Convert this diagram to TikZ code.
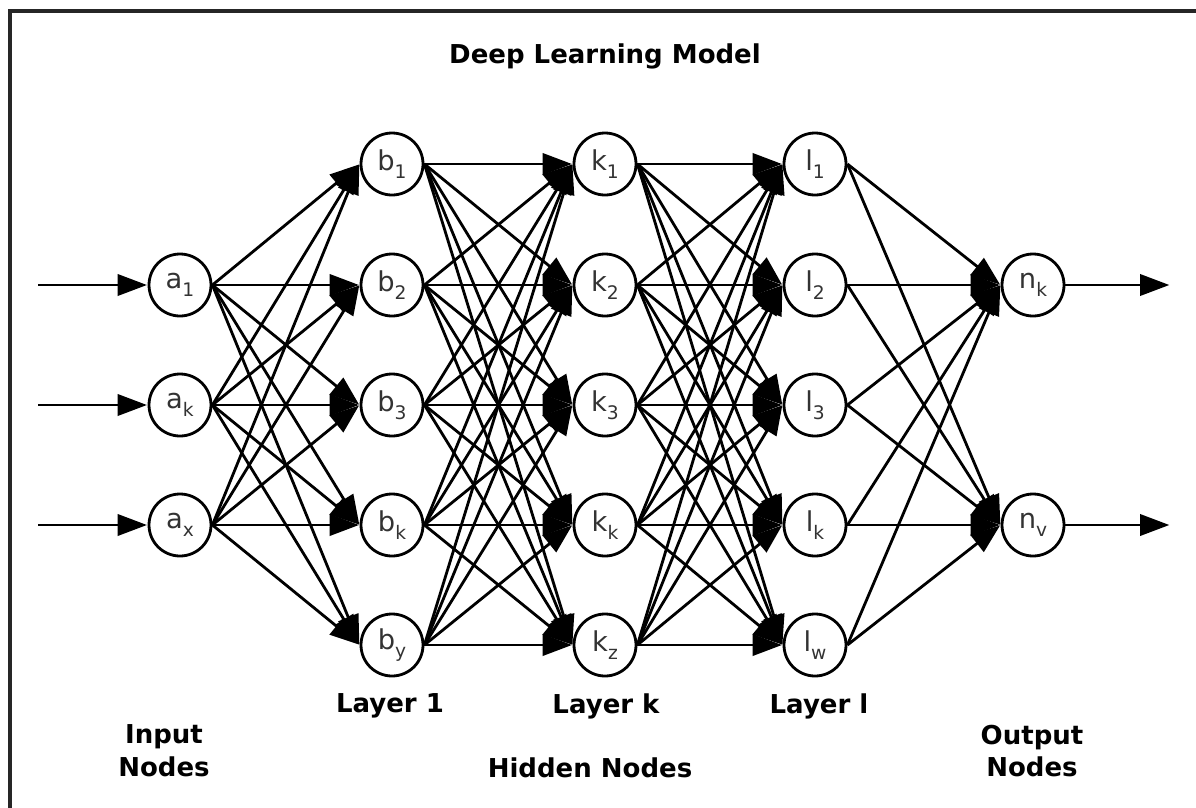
\documentclass[tikz,border=0pt]{standalone}
\usepackage{fontspec}
\setmainfont{DejaVu Sans}
\usetikzlibrary{arrows.meta}
\newcommand{\sbs}[1]{\raisebox{-0.3em}{\fontsize{14}{14}\selectfont #1}}
\tikzset{
  neuron/.style={circle, draw, line width=2.1pt, minimum size=46.5pt, inner sep=0pt,
    text=black!80, font=\fontsize{20.5}{22}\selectfont},
  conn/.style={line width=2.1pt, -{Triangle[length=22pt,width=16pt]}, shorten >=0.5pt},
  lbl/.style={font=\bfseries\fontsize{19.5}{24.5}\selectfont, align=center},
}
\begin{document}
\begin{tikzpicture}[x=0.75pt,y=-0.75pt]
\useasboundingbox (0,0) rectangle (1196,807);
\draw[line width=2.3pt, black!85] (10,1000) -- (10,11) -- (1300,11);
% input nodes
\node[neuron] (a1) at (180,285) {a\sbs{1}};
\node[neuron] (a2) at (180,405) {a\sbs{k}};
\node[neuron] (a3) at (180,525) {a\sbs{x}};
% layer 1
\node[neuron] (b1) at (392,164) {b\sbs{1}};
\node[neuron] (b2) at (392,285) {b\sbs{2}};
\node[neuron] (b3) at (392,405) {b\sbs{3}};
\node[neuron] (b4) at (392,525) {b\sbs{k}};
\node[neuron] (b5) at (392,645) {b\sbs{y}};
% layer k
\node[neuron] (k1) at (605,164) {k\sbs{1}};
\node[neuron] (k2) at (605,285) {k\sbs{2}};
\node[neuron] (k3) at (605,405) {k\sbs{3}};
\node[neuron] (k4) at (605,525) {k\sbs{k}};
\node[neuron] (k5) at (605,645) {k\sbs{z}};
% layer l
\node[neuron] (l1) at (815,164) {l\sbs{1}};
\node[neuron] (l2) at (815,285) {l\sbs{2}};
\node[neuron] (l3) at (815,405) {l\sbs{3}};
\node[neuron] (l4) at (815,525) {l\sbs{k}};
\node[neuron] (l5) at (815,645) {l\sbs{w}};
% output
\node[neuron] (n1) at (1033,285) {n\sbs{k}};
\node[neuron] (n2) at (1033,525) {n\sbs{v}};
% free ends
\coordinate (i1) at (38,285);
\coordinate (i2) at (38,405);
\coordinate (i3) at (38,525);
\coordinate (o1) at (1170,285);
\coordinate (o2) at (1170,525);
% connectors
\foreach \i in {1,2,3} \draw[conn] (i\i) -- (a\i.west);
\foreach \i in {1,2,3} \foreach \j in {1,...,5} \draw[conn] (a\i.east) -- (b\j.west);
\foreach \i in {1,...,5} \foreach \j in {1,...,5} \draw[conn] (b\i.east) -- (k\j.west);
\foreach \i in {1,...,5} \foreach \j in {1,...,5} \draw[conn] (k\i.east) -- (l\j.west);
\foreach \i in {1,...,5} \foreach \j in {1,2} \draw[conn] (l\i.east) -- (n\j.west);
\foreach \j in {1,2} \draw[conn] (n\j.east) -- (o\j);
% labels
\node[lbl] (title) at (605,56) {Deep Learning Model};
\node[lbl] (lay1) at (390,706) {Layer 1};
\node[lbl] (layk) at (606,706) {Layer k};
\node[lbl] (layl) at (819,706) {Layer l};
\node[lbl] (inp) at (164,751) {Input\\Nodes};
\node[lbl] (hid) at (590,768) {Hidden Nodes};
\node[lbl] (outp) at (1032,751) {Output\\Nodes};
\end{tikzpicture}
\end{document}
